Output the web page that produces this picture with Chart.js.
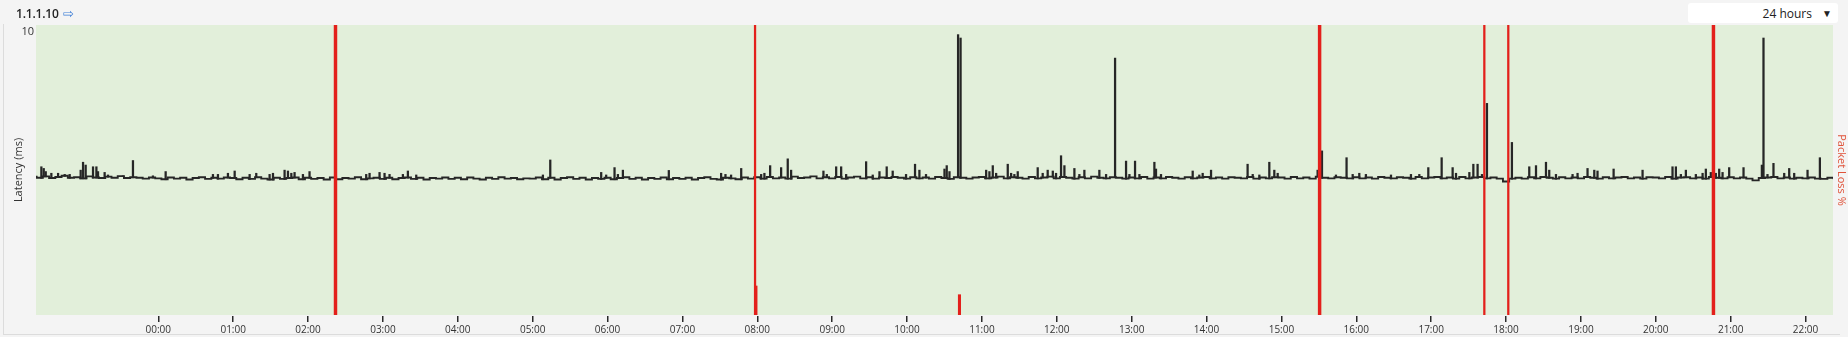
<!DOCTYPE html>
<html><head><meta charset="utf-8">
<script src="https://cdn.jsdelivr.net/npm/chart.js@4.4.1/dist/chart.umd.min.js"></script>
<style>
html,body{margin:0;padding:0;background:#f4f4f4;width:1848px;height:337px;overflow:hidden;font-family:"Open Sans","Noto Sans",sans-serif;}
#wrap{position:relative;width:1848px;height:337px;}
#c{position:absolute;left:0;top:0;}
#title{position:absolute;left:16px;top:4px;font-size:12px;font-weight:600;color:#222;letter-spacing:-0.2px;}
#title .arr{color:#3f7fd6;font-weight:400;margin-left:4px;font-size:13px;}
#range{position:absolute;left:1688px;top:3px;width:150px;height:20px;background:#fff;border-radius:3px;font-size:12px;color:#222;}
#range .t{position:absolute;right:26px;top:2px;}
#range .a{position:absolute;right:6px;top:3px;font-size:10px;}
#frameL{position:absolute;left:3px;top:24px;width:1px;height:310px;background:#dcdcdc;}
#frameB{position:absolute;left:3px;top:334px;width:1837px;height:1px;background:#dcdcdc;}
</style></head>
<body><div id="wrap">
<div id="frameL"></div><div id="frameB"></div>
<canvas id="c" width="1848" height="337"></canvas>
<div id="title">1.1.1.10<span class="arr">⇨</span></div>
<div id="range"><span class="t">24 hours</span><span class="a">▼</span></div>
</div>
<script>
// ---- data ----
const latencyStartMinute = -100;   // minutes relative to 00:00
const latencyStepMinutes = 5;
const latencyMs = [
4.89,4.85,4.90,4.84,4.88,4.92,4.85,4.87,4.83,4.90,4.86,4.84,4.89,4.85,4.91,4.84,4.87,4.85,4.82,4.86,
4.83,4.80,4.86,4.82,4.85,4.79,4.84,4.87,4.81,4.85,4.82,4.86,
4.84,4.80,4.85,4.81,4.87,4.82,4.79,4.85,4.81,4.84,4.86,4.80,
4.85,4.81,4.84,4.79,4.86,4.80,4.84,4.82,4.87,4.80,4.83,4.85,
4.81,4.85,4.80,4.84,4.86,4.81,4.85,4.79,4.84,4.82,4.86,4.81,
4.85,4.80,4.86,4.82,4.79,4.85,4.81,4.87,4.82,4.84,4.80,4.83,
4.82,4.86,4.80,4.85,4.79,4.84,4.87,4.81,4.85,4.79,4.84,4.81,
4.85,4.80,4.84,4.87,4.81,4.85,4.79,4.84,4.81,4.86,4.80,4.84,
4.81,4.85,4.79,4.84,4.87,4.81,4.79,4.85,4.83,4.80,4.86,4.82,
4.87,4.82,4.88,4.83,4.86,4.82,4.89,4.84,4.86,4.90,4.83,4.87,
4.83,4.88,4.82,4.86,4.89,4.83,4.87,4.82,4.86,4.84,4.88,4.85,
4.82,4.87,4.83,4.86,4.82,4.88,4.84,4.81,4.87,4.85,4.82,4.86,
4.88,4.83,4.86,4.89,4.83,4.87,4.85,4.82,4.88,4.83,4.86,4.89,
4.83,4.88,4.85,4.82,4.87,4.83,4.89,4.85,4.83,4.87,4.85,4.82,
4.86,4.83,4.88,4.82,4.86,4.83,4.88,4.85,4.82,4.87,4.83,4.86,
4.88,4.83,4.86,4.82,4.87,4.85,4.83,4.88,4.82,4.86,4.83,4.87,
4.86,4.82,4.88,4.83,4.86,4.82,4.89,4.85,4.83,4.87,4.85,4.83,
4.87,4.83,4.86,4.82,4.88,4.85,4.83,4.87,4.85,4.82,4.88,4.83,
4.86,4.88,4.83,4.86,4.82,4.88,4.83,4.86,4.88,4.83,4.86,4.82,
4.72,4.82,4.85,4.82,4.87,4.83,4.88,4.85,4.82,4.87,4.83,4.86,
4.83,4.88,4.85,4.82,4.87,4.83,4.86,4.88,4.83,4.86,4.82,4.87,
4.86,4.83,4.88,4.82,4.86,4.87,4.83,4.86,4.82,4.88,4.85,4.83,
4.87,4.83,4.86,4.82,4.76,4.84,4.86,4.88,4.83,4.86,4.82,4.85,
4.83,4.86,4.82,4.81,4.85,4.83
];
// short latency spikes: [minute, peak ms]
const latencySpikes = [
[-93.7,5.24],[-91.8,5.18],[-90.2,5.07],[-85.7,5.01],[-80.3,5.01],[-75.0,4.97],[-71.0,4.97],[-62.2,5.12],
[-60.3,5.40],[-58.2,5.30],[-52.3,5.24],[-49.6,5.24],[-48.3,5.07],[-43.0,5.04],[-40.3,4.95],[-28.3,4.92],
[-20.3,5.46],[-4.3,4.92],[5.9,5.07],[43.8,4.97],[47.8,4.97],[55.8,5.01],[61.2,5.09],[73.2,4.97],[78.5,5.01],
[89.2,4.97],[91.9,5.01],[101.2,5.12],[103.9,5.09],[106.6,5.01],[109.2,5.04],[115.9,4.97],[121.2,5.07],
[142.1,5.07],[166.6,4.97],[169.3,5.01],[177.3,5.04],[181.3,5.01],[185.3,4.97],[196.0,4.97],[200.0,5.09],[206.7,4.95],
[308.2,4.95],[314.1,5.48],[354.9,5.04],[358.9,4.95],[365.6,5.21],[368.3,4.97],[372.3,5.12],[409.1,5.11],
[451.0,5.01],[454.5,4.97],[459.0,4.95],[467.1,5.18],[483.1,4.97],[485.7,5.01],[490.3,5.28],[499.1,5.21],
[504.4,5.52],[507.1,5.12],[533.0,5.09],[535.7,4.97],[543.2,5.24],[547.2,5.24],[551.2,4.97],[567.2,5.42],
[572.5,4.95],[577.9,5.07],[583.7,5.24],[588.5,5.09],[599.2,4.97],[606.4,5.33],[609.9,5.12],[615.2,4.97],
[630.0,5.16],[631.8,5.28],[634.0,5.07],[640.9,9.91],[642.9,9.79],[663.4,5.12],[666.0,5.07],[668.7,5.28],
[671.4,5.01],[680.7,5.33],[683.4,5.01],[686.0,4.97],[688.7,5.07],[704.7,5.21],[708.7,5.01],[712.7,5.12],
[716.8,5.09],[719.4,5.01],[723.4,5.63],[726.1,5.28],[734.1,5.18],[738.1,4.97],[742.1,5.12],[754.1,5.12],
[759.5,4.97],[766.7,9.08],[775.5,5.44],[778.2,4.97],[782.7,5.44],[786.2,4.97],[798.2,5.40],[799.5,5.16],
[803.5,4.97],[828.9,5.09],[834.2,4.95],[836.9,5.01],[843.6,5.12],[872.9,5.33],[877.0,4.97],[882.3,4.95],
[890.3,5.40],[894.3,5.12],[897.0,5.01],[929.0,5.12],[932.5,5.80],[943.7,4.95],[952.2,5.56],[957.1,4.97],
[962.4,5.01],[967.7,4.97],
[987.8,4.95],[1003.8,4.97],[1010.5,4.97],[1017.7,5.21],[1028.4,5.56],[1037.2,5.21],[1039.9,5.01],[1050.6,5.04],
[1053.8,5.33],[1057.2,5.33],[1060.7,4.97],[1064.7,7.48],[1084.7,6.10],[1098.6,5.24],[1104.0,5.28],[1112.0,5.40],
[1114.6,5.12],[1120.0,4.97],[1133.3,4.97],[1137.3,5.01],[1145.3,5.18],[1150.7,5.12],[1153.3,5.09],[1166.2,5.16],
[1189.4,5.12],[1213.4,5.24],[1216.1,5.24],[1220.1,4.97],[1224.1,5.12],[1232.1,4.97],[1237.5,5.01],[1240.1,5.16],
[1244.1,5.04],[1248.1,5.01],[1250.8,5.16],[1253.5,5.04],[1258.8,5.21],[1270.3,5.21],[1285.0,5.30],[1286.3,9.79],
[1289.5,4.97],[1294.3,5.36],[1302.9,5.01],[1306.9,5.18],[1310.9,5.01],[1321.6,5.12],[1331.5,5.56]
];
// packet loss events: [minute, loss %]
const lossFullThick = [[142,100],[930.6,100],[1246.2,100]];
const lossFullThin  = [[478.2,100],[1062.6,100],[1081.8,100]];
const lossPartial   = [[478.9,10],[642,7]];
const hourTickMinutes = [0,60,120,180,240,300,360,420,480,540,600,660,720,780,840,900,960,1020,1080,1140,1200,1260,1320];
const hourTickLabels = ['00:00','01:00','02:00','03:00','04:00','05:00','06:00','07:00','08:00','09:00','10:00','11:00',
  '12:00','13:00','14:00','15:00','16:00','17:00','18:00','19:00','20:00','21:00','22:00'];
const axisMinMinute = -98, axisMaxMinute = 1342;
const latencyTicks = [10];

// ---- build ----
const linePts = latencyMs.map((v,i)=>({x: latencyStartMinute + i*latencyStepMinutes, y: v}));
const spikePts = latencySpikes.map(([m,v])=>{
  const idx = Math.min(latencyMs.length-1, Math.max(0, Math.round((m-latencyStartMinute)/latencyStepMinutes)));
  return {x:m, y:[latencyMs[idx]-0.02, v]};
});
const toPts = arr => arr.map(([m,p])=>({x:m,y:p}));

const bgPlugin = {
  id:'plotBg',
  beforeDraw(chart){
    const {ctx, chartArea:a} = chart;
    ctx.save(); ctx.fillStyle = '#e2efda';
    ctx.fillRect(a.left, a.top, a.right-a.left, a.bottom-a.top);
    ctx.restore();
  }
};
// small tick marks under the plot, positioned by the x scale
const tickMarkPlugin = {
  id:'tickMarks',
  afterDraw(chart){
    const s = chart.scales.x, ctx = chart.ctx;
    const y0 = chart.chartArea.bottom;
    ctx.save(); ctx.fillStyle = '#2a2a2a';
    hourTickMinutes.forEach(m=>{
      const x = s.getPixelForValue(m);
      ctx.fillRect(Math.round(x - 0.75), y0 + 1, 1.5, 6);
    });
    ctx.restore();
  }
};

const FONT = '"Open Sans","Noto Sans",sans-serif';
new Chart(document.getElementById('c'), {
  type:'line',
  data:{datasets:[
    {type:'bar', data: toPts(lossFullThick), yAxisID:'y2', backgroundColor:'#e3201b', barThickness:2.8, grouped:false, order:0},
    {type:'bar', data: toPts(lossFullThin), yAxisID:'y2', backgroundColor:'#e3201b', barThickness:1.6, grouped:false, order:0},
    {type:'bar', data: toPts(lossPartial), yAxisID:'y2', backgroundColor:'#e3201b', barThickness:2.4, grouped:false, order:0},
    {type:'bar', data: spikePts, yAxisID:'y', backgroundColor:'#262626', barThickness:1.6, grouped:false, order:1},
    {type:'line', data: linePts, yAxisID:'y', borderColor:'#262626', borderWidth:1.9, pointRadius:0, stepped:'middle', order:2}
  ]},
  options:{
    responsive:false, animation:false, devicePixelRatio:1,
    layout:{padding:{top:25,left:0,right:0,bottom:0}},
    plugins:{legend:{display:false}, tooltip:{enabled:false}},
    scales:{
      x:{type:'linear', min:axisMinMinute, max:axisMaxMinute, offset:false,
        grid:{display:false, drawTicks:true, tickLength:6},
        border:{display:false},
        ticks:{autoSkip:false, maxRotation:0, padding:3, color:'#333', font:{family:FONT, size:10},
          callback:(v)=>{const i=hourTickMinutes.indexOf(v); return i>=0?hourTickLabels[i]:'';}},
        afterBuildTicks:(s)=>{s.ticks = hourTickMinutes.map(v=>({value:v}));},
        afterFit:(s)=>{s.height = 22;}
      },
      y:{type:'linear', position:'left', min:0, max:10.25,
        grid:{display:false, drawTicks:false}, border:{display:false},
        ticks:{padding:2, color:'#333', font:{family:FONT, size:11}, callback:(v)=>String(v)},
        afterBuildTicks:(s)=>{s.ticks = latencyTicks.map(v=>({value:v}));},
        title:{display:true, text:'Latency (ms)', color:'#333', font:{family:FONT, size:11}, padding:{top:12,bottom:0}},
        afterFit:(s)=>{s.width = 36;}
      },
      y2:{type:'linear', position:'right', min:0, max:100,
        grid:{display:false, drawTicks:false}, border:{display:false},
        ticks:{display:false},
        title:{display:true, text:'Packet Loss %', color:'#e0533a', font:{family:FONT, size:11}, padding:{top:0,bottom:0}},
        afterFit:(s)=>{s.width = 15;}
      }
    }
  },
  plugins:[bgPlugin, tickMarkPlugin]
});
</script>
</body></html>
